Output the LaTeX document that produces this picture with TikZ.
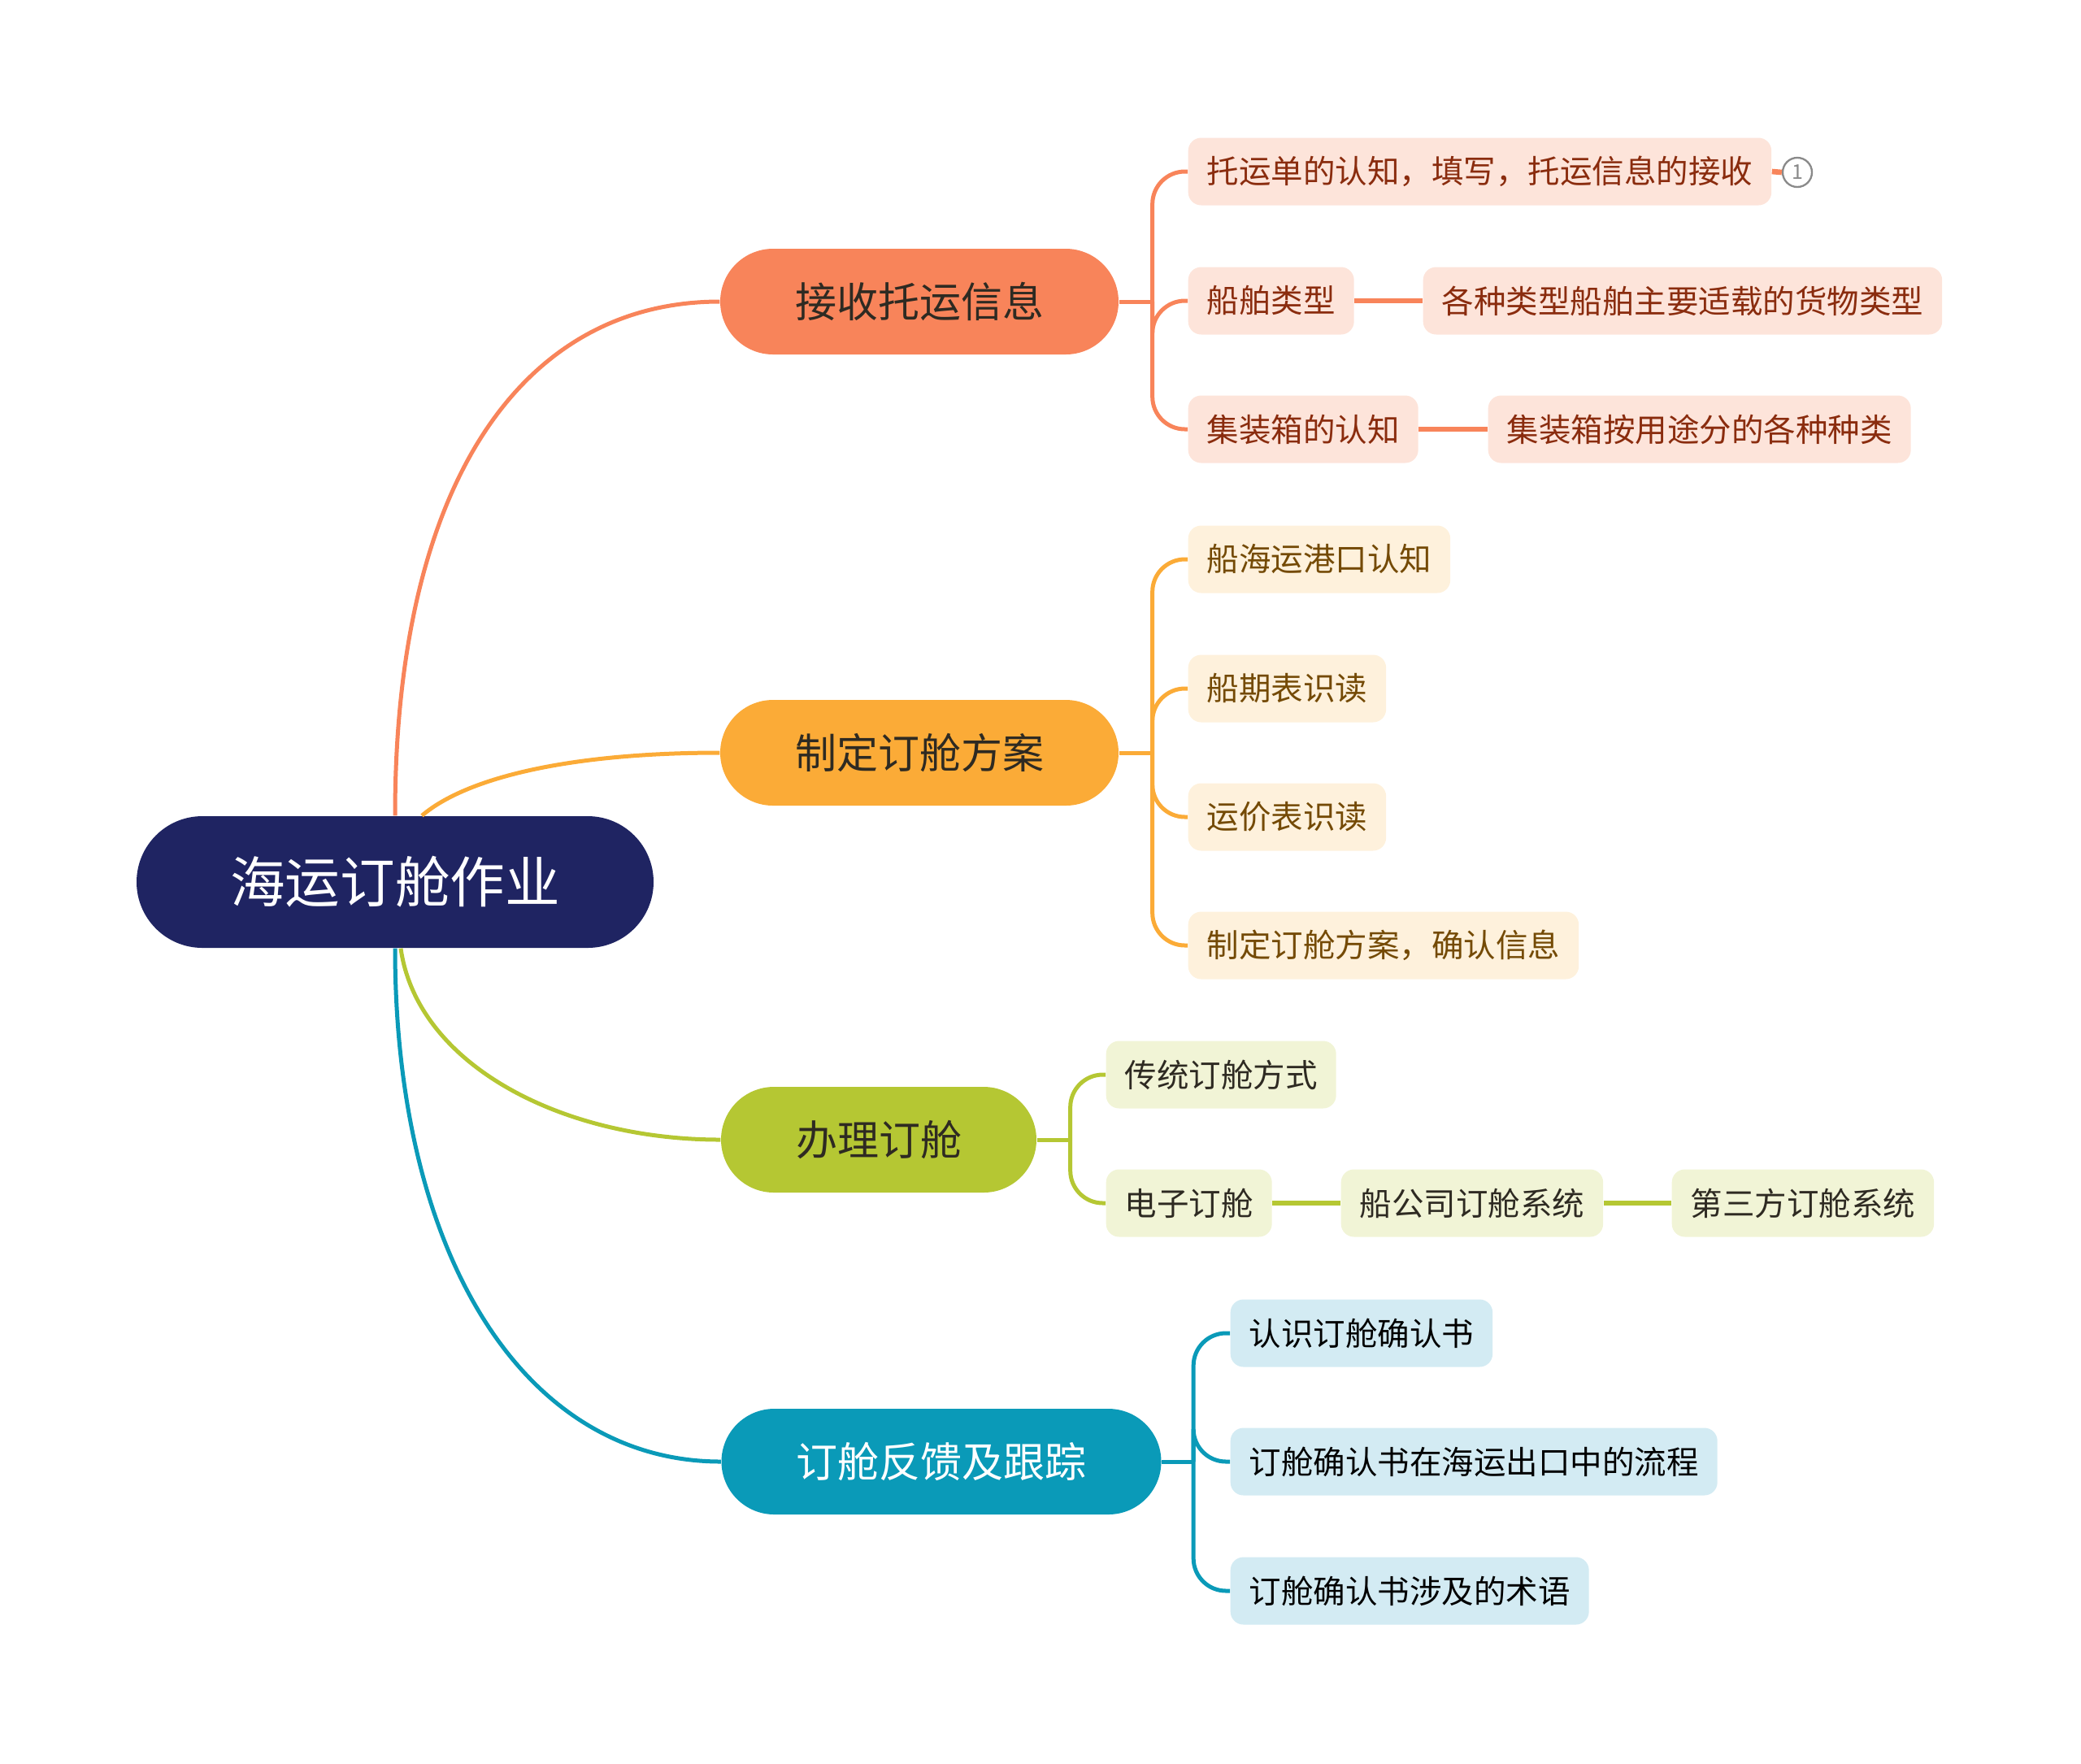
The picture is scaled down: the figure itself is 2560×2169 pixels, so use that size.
\documentclass[tikz,border=0pt]{standalone}
\usepackage{fontspec}
\usepackage{tikz}
\usetikzlibrary{calc}
\newfontfamily\cjk{Noto Sans CJK SC}
\definecolor{MapNavy}{HTML}{1F2462}
\definecolor{MapCoral}{HTML}{F8845A}
\definecolor{MapAmber}{HTML}{FBAB37}
\definecolor{MapLime}{HTML}{B5C733}
\definecolor{MapCyan}{HTML}{0A9AB8}
\definecolor{MapCoralTint}{HTML}{FDE4DA}
\definecolor{MapAmberTint}{HTML}{FEF1DC}
\definecolor{MapLimeTint}{HTML}{F1F4D6}
\definecolor{MapCyanTint}{HTML}{D3EBF3}
\definecolor{MapCoralText}{HTML}{8A2C0E}
\definecolor{MapAmberText}{HTML}{744A05}
\definecolor{MapDark}{HTML}{2E2A22}
\definecolor{MapMuted}{HTML}{8A8A8A}

\begin{document}
\begin{tikzpicture}[
    x=0.3pt,y=-0.3pt,
    rootbox/.style={fill=MapNavy,text=white,rounded corners=24.3pt,minimum height=48.6pt,inner xsep=34.5pt,font=\cjk\fontsize{20.3}{24}\selectfont},
    topic/.style={rounded corners=19.5pt,minimum height=39pt,inner xsep=27.6pt,font=\cjk\fontsize{15.3}{18}\selectfont},
    leaf/.style={anchor=west,rounded corners=4.8pt,minimum height=24.9pt,inner xsep=6.9pt,font=\cjk\fontsize{11.85}{14}\selectfont},
    limb/.style={line width=1.5pt},
    twig/.style={line width=1.5pt,rounded corners=12pt},
    link/.style={line width=2pt}
  ]
    \useasboundingbox (0,0) rectangle (2560,2169);

    % root and main topics
    \node[rootbox] (root) at (486,1085) {海运订舱作业};
    \node[topic,fill=MapCoral,text=MapDark] (recv) at (1131,371) {接收托运信息};
    \node[topic,fill=MapAmber,text=MapDark] (plan) at (1131,926) {制定订舱方案};
    \node[topic,fill=MapLime,text=MapDark] (book) at (1081,1402) {办理订舱};
    \node[topic,fill=MapCyan,text=white] (track) at (1158,1798) {订舱反馈及跟踪};

    % leaves
    \node[leaf,fill=MapCoralTint,text=MapCoralText] (recvA) at (1461,211) {托运单的认知，填写，托运信息的接收};
    \node[circle,draw=MapMuted,fill=white,line width=0.7pt,inner sep=0pt,minimum size=10.8pt,text=MapMuted,font=\cjk\fontsize{7.5}{9}\selectfont] (note) at (2211,212) {1};
    \node[leaf,fill=MapCoralTint,text=MapCoralText] (recvB) at (1461,370) {船舶类型};
    \node[leaf,fill=MapCoralTint,text=MapCoralText] (recvBx) at (1750,370) {各种类型船舶主要适载的货物类型};
    \node[leaf,fill=MapCoralTint,text=MapCoralText] (recvC) at (1461,528) {集装箱的认知};
    \node[leaf,fill=MapCoralTint,text=MapCoralText] (recvCx) at (1830,528) {集装箱按用途分的各种种类};

    \node[leaf,fill=MapAmberTint,text=MapAmberText] (planA) at (1461,688) {船海运港口认知};
    \node[leaf,fill=MapAmberTint,text=MapAmberText] (planB) at (1461,847) {船期表识读};
    \node[leaf,fill=MapAmberTint,text=MapAmberText] (planC) at (1461,1005) {运价表识读};
    \node[leaf,fill=MapAmberTint,text=MapAmberText] (planD) at (1461,1163) {制定订舱方案，确认信息};

    \node[leaf,fill=MapLimeTint,text=MapDark] (bookA) at (1360,1322) {传统订舱方式};
    \node[leaf,fill=MapLimeTint,text=MapDark] (bookB) at (1360,1480) {电子订舱};
    \node[leaf,fill=MapLimeTint,text=MapDark] (bookBx) at (1649,1480) {船公司订舱系统};
    \node[leaf,fill=MapLimeTint,text=MapDark] (bookBy) at (2056,1480) {第三方订舱系统};

    \node[leaf,fill=MapCyanTint,text=black] (trackA) at (1513,1640) {认识订舱确认书};
    \node[leaf,fill=MapCyanTint,text=black] (trackB) at (1513,1798) {订舱确认书在海运出口中的流程};
    \node[leaf,fill=MapCyanTint,text=black] (trackC) at (1513,1957) {订舱确认书涉及的术语};

    % root to topics
    \draw[limb,MapCoral] (root.north) .. controls +(0,-412) and +(-241,0) .. (recv.west);
    \coordinate (rootP) at ($(root.north)+(33,0)$);
    \draw[limb,MapAmber] (rootP) .. controls +(55,-47) and +(-184,0) .. (plan.west);
    \coordinate (rootB) at ($(root.south)+(7,0)$);
    \draw[limb,MapLime] (rootB) .. controls +(20,142) and +(-197,0) .. (book.west);
    \draw[limb,MapCyan] (root.south) .. controls +(0,379) and +(-241,0) .. (track.west);

    % topics to leaves
    \coordinate (recvS) at ($(recv.east)+(41,0)$);
    \draw[limb,MapCoral] (recv.east) -- (recvS);
    \draw[twig,MapCoral] (recvS) |- (recvA.west);
    \draw[twig,MapCoral] (recvS) |- (recvB.west);
    \draw[twig,MapCoral] (recvS) |- (recvC.west);
    \draw[link,MapCoral] (recvA.east) -- (note.west);
    \draw[link,MapCoral] (recvB.east) -- (recvBx.west);
    \draw[link,MapCoral] (recvC.east) -- (recvCx.west);

    \coordinate (planS) at ($(plan.east)+(41,0)$);
    \draw[limb,MapAmber] (plan.east) -- (planS);
    \draw[twig,MapAmber] (planS) |- (planA.west);
    \draw[twig,MapAmber] (planS) |- (planB.west);
    \draw[twig,MapAmber] (planS) |- (planC.west);
    \draw[twig,MapAmber] (planS) |- (planD.west);

    \coordinate (bookS) at ($(book.east)+(41,0)$);
    \draw[limb,MapLime] (book.east) -- (bookS);
    \draw[twig,MapLime] (bookS) |- (bookA.west);
    \draw[twig,MapLime] (bookS) |- (bookB.west);
    \draw[link,MapLime] (bookB.east) -- (bookBx.west);
    \draw[link,MapLime] (bookBx.east) -- (bookBy.west);

    \coordinate (trackS) at ($(track.east)+(39,0)$);
    \draw[limb,MapCyan] (track.east) -- (trackS);
    \draw[twig,MapCyan] (trackS) |- (trackA.west);
    \draw[twig,MapCyan] (trackS) |- (trackB.west);
    \draw[twig,MapCyan] (trackS) |- (trackC.west);
  \end{tikzpicture}
\end{document}
